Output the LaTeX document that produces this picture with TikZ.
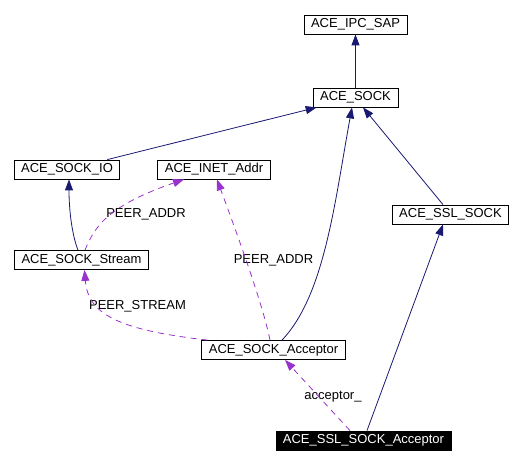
\documentclass[tikz,border=0pt]{standalone}
\usepackage{fontspec}
\setmainfont{Liberation Sans}
\usepackage{tikz}
\usetikzlibrary{arrows.meta,calc}
\definecolor{inhblue}{HTML}{191970}
\definecolor{usepurple}{HTML}{9932CC}
\tikzstyle{inh}=[draw=inhblue, line width=0.8pt, -{Triangle[length=11pt,width=8pt]}, inhblue]
\tikzstyle{use}=[draw=usepurple, line width=0.8pt, dash pattern=on 6pt off 5pt, -{Triangle[length=11pt,width=8pt]}, usepurple]

\begin{document}
\begin{tikzpicture}[x=1pt,y=-1pt,
          klass/.style={rectangle,draw=black,line width=0.8pt,fill=white,inner xsep=7pt,inner ysep=0pt,
                        minimum height=19pt,font=\fontsize{13}{15}\selectfont},
          cur/.style={klass,fill=black,text=white},
          lbl/.style={font=\fontsize{13}{15}\selectfont,inner sep=0pt}]
        \useasboundingbox (0,0) rectangle (525,465);
        \node [klass] (ipc)     at (355.5,24.5)  {ACE\_IPC\_SAP};
        \node [klass] (sock)    at (355.5,97.5)  {ACE\_SOCK};
        \node [klass] (sockio)  at (67,169.5)    {ACE\_SOCK\_IO};
        \node [klass] (inet)    at (214,169.5)   {ACE\_INET\_Addr};
        \node [klass] (sslsock) at (450.5,214.5) {ACE\_SSL\_SOCK};
        \node [klass] (stream)  at (81.5,260)    {ACE\_SOCK\_Stream};
        \node [klass] (acc)     at (273.5,350)   {ACE\_SOCK\_Acceptor};
        \node [cur]   (sslacc)  at (363.5,440.5) {ACE\_SSL\_SOCK\_Acceptor};
        % labels
        \node [lbl] (l1) at (146,214)   {PEER\_ADDR};
        \node [lbl] (l2) at (273.5,260) {PEER\_ADDR};
        \node [lbl] (l3) at (137.5,306) {PEER\_STREAM};
        \node [lbl] (l4) at (333,397)   {acceptor\_};
        % inheritance
        \draw [inh] (sock.north) -- (ipc.south);
        \draw [inh] ([xshift=-13pt]sockio.north east) -- ([xshift=4pt]sock.south west);
        \draw [inh] ([xshift=-7.5pt]sslsock.north) -- ([xshift=7.5pt]sock.south);
        \draw [inh] ([xshift=8.5pt]acc.north) .. controls (325,295) and (335,200) .. ([xshift=-3.5pt]sock.south);
        \draw [inh] ([xshift=-3.5pt]stream.north) .. controls (72,235) and (69,210) .. ([xshift=2pt]sockio.south);
        \draw [inh] ([xshift=3.5pt]sslacc.north) -- ([xshift=-7.5pt]sslsock.south);
        % usage
        \draw [use] ([xshift=3.5pt]stream.north) .. controls (95,225) and (110,205) .. ([xshift=-30pt]inet.south);
        \draw [use] ([xshift=-3.5pt]acc.north) .. controls (262,300) and (230,215) .. ([xshift=3pt]inet.south);
        \draw [use] ([xshift=6pt]acc.north west) .. controls (120,330) and (88,315) .. ([xshift=3pt]stream.south);
        \draw [use] ([xshift=-13.5pt]sslacc.north) -- ([xshift=11.5pt]acc.south);
\end{tikzpicture}
\end{document}
